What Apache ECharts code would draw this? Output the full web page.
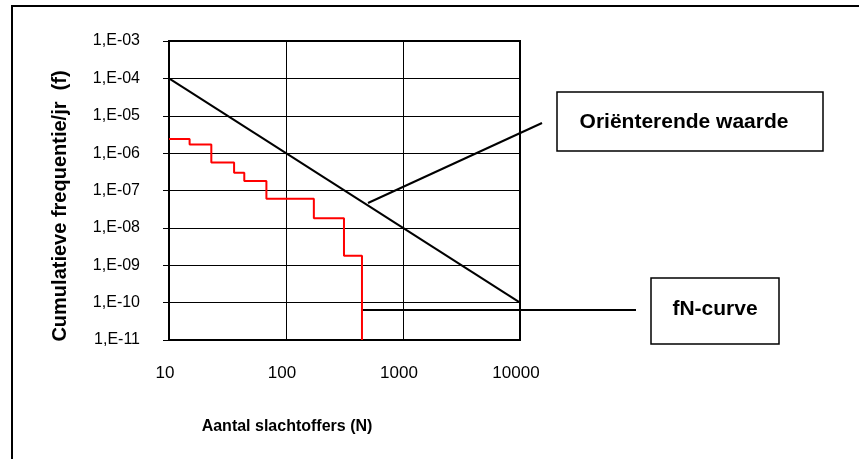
<!DOCTYPE html>
<html>
<head>
<meta charset="utf-8">
<script src="https://cdn.jsdelivr.net/npm/echarts@6/dist/echarts.min.js"></script>
<style>
html,body{margin:0;padding:0;background:#fff;}
#c{width:859px;height:459px;}
</style>
</head>
<body>
<div id="c"></div>
<script>
// Orienterende waarde (reference line)
var refN = [10, 10000];
var refF = [1e-4, 1e-10];
// fN-curve step values: frequency f holds from stepN[i] to stepN[i+1]
var stepN = [10, 15, 23, 36, 44, 68, 173, 313, 446];
var stepF = [2.4e-6, 1.7e-6, 5.6e-7, 3.0e-7, 1.8e-7, 6.0e-8, 1.8e-8, 1.8e-9, 1e-11];
var xTicks = [10, 100, 1000, 10000];
var yLabelPrefix = '1,E-';
var labelOrient = 'Oriënterende waarde';
var labelFN = 'fN-curve';
var xTitle = 'Aantal slachtoffers (N)';
var yTitle = 'Cumulatieve frequentie/jr  (f)';

var refData = refN.map(function (n, i) { return [n, refF[i]]; });
var fnData = [];
for (var i = 0; i < stepN.length; i++) {
  fnData.push([stepN[i], stepF[i]]);
  if (i + 1 < stepN.length) fnData.push([stepN[i + 1], stepF[i]]);
}

var FONT = '"Liberation Sans", Arial, sans-serif';
var chart = echarts.init(document.getElementById('c'), null, {renderer: 'canvas'});
chart.setOption({
  animation: false,
  backgroundColor: '#fff',
  grid: {left: 169, top: 41, right: 339, bottom: 119, show: true, borderColor: '#000', borderWidth: 2, backgroundColor: 'transparent'},
  xAxis: {
    type: 'log', logBase: 10, min: 10, max: 10000,
    axisLine: {show: true, lineStyle: {color: '#000', width: 2}},
    axisTick: {show: false},
    splitLine: {show: true, lineStyle: {color: '#000', width: 1}},
    axisLabel: {color: '#000', fontFamily: FONT, fontSize: 17, margin: 25, padding: [0, 8, 0, 0],
      formatter: function (v) { return String(Math.round(v)); }}
  },
  yAxis: {
    type: 'log', logBase: 10, min: 1e-11, max: 1e-3,
    axisLine: {show: true, lineStyle: {color: '#000', width: 2}},
    axisTick: {show: true, inside: false, length: 6, lineStyle: {color: '#000', width: 1}},
    splitLine: {show: true, lineStyle: {color: '#000', width: 1}},
    axisLabel: {color: '#000', fontFamily: FONT, fontSize: 16, margin: 29,
      formatter: function (v) {
        var e = Math.round(-Math.log10(v));
        return yLabelPrefix + (e < 10 ? '0' + e : String(e));
      }}
  },
  series: [
    {type: 'line', data: refData, symbol: 'none', lineStyle: {color: '#000', width: 2}, z: 3},
    {type: 'line', data: fnData, symbol: 'none', lineStyle: {color: '#ff0000', width: 2}, z: 4, clip: false}
  ],
  graphic: [
    {type: 'rect', shape: {x: 12, y: 6, width: 900, height: 500}, style: {fill: 'none', stroke: '#000', lineWidth: 2}, silent: true},
    {type: 'line', shape: {x1: 368, y1: 203, x2: 542, y2: 123}, style: {stroke: '#000', lineWidth: 2}},
    {type: 'line', shape: {x1: 362, y1: 310, x2: 636, y2: 310}, style: {stroke: '#000', lineWidth: 2}},
    {type: 'rect', shape: {x: 557, y: 92, width: 266, height: 59}, style: {fill: '#fff', stroke: '#000', lineWidth: 1.5}},
    {type: 'text', x: 684, y: 122, style: {text: labelOrient, fill: '#000', font: 'bold 21px ' + FONT, textAlign: 'center', textVerticalAlign: 'middle'}},
    {type: 'rect', shape: {x: 651, y: 278, width: 128, height: 66}, style: {fill: '#fff', stroke: '#000', lineWidth: 1.5}},
    {type: 'text', x: 715, y: 309, style: {text: labelFN, fill: '#000', font: 'bold 21px ' + FONT, textAlign: 'center', textVerticalAlign: 'middle'}},
    {type: 'text', x: 287, y: 427, style: {text: xTitle, fill: '#000', font: 'bold 16px ' + FONT, textAlign: 'center', textVerticalAlign: 'middle'}},
    {type: 'text', x: 60, y: 206, rotation: Math.PI / 2, style: {text: yTitle, fill: '#000', font: 'bold 20px ' + FONT, textAlign: 'center', textVerticalAlign: 'middle'}}
  ]
});
</script>
</body>
</html>
